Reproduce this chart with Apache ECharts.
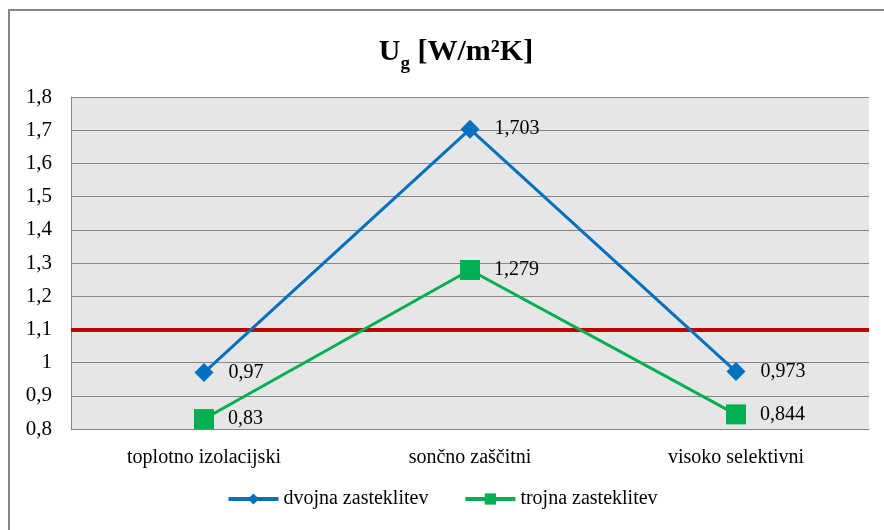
<!DOCTYPE html>
<html><head><meta charset="utf-8">
<script src="https://cdn.jsdelivr.net/npm/echarts@6/dist/echarts.min.js"></script>
<style>html,body{margin:0;padding:0;background:#fff}#c{width:884px;height:530px}</style>
</head><body><div id="c"></div>
<script>
const categories = ['toplotno izolacijski', 'sončno zaščitni', 'visoko selektivni'];
const dvojna = [0.97, 1.703, 0.973];
const trojna = [0.83, 1.279, 0.844];
const limit = 1.097;
const yTicks = [0.8, 1.8, 0.1];
const seriesNames = ['dvojna zasteklitev', 'trojna zasteklitev'];

const font = '"Liberation Serif", "Times New Roman", serif';
const chart = echarts.init(document.getElementById('c'));
const fmt = v => String(v).replace('.', ',');
chart.setOption({
  animation: false,
  backgroundColor: '#fff',
  graphic: [{
    type: 'polyline', silent: true,
    shape: { points: [[9, 540], [9, 10], [890, 10]] },
    style: { stroke: '#868686', lineWidth: 2, fill: null }
  }],
  title: {
    text: '{u|U}{s|g}{u| [W/m²K]}',
    left: 451, top: 28, textAlign: 'center',
    textStyle: {
      rich: {
        u: { fontFamily: font, fontSize: 30, fontWeight: 'bold', color: '#000', verticalAlign: 'bottom', lineHeight: 34 },
        s: { fontFamily: font, fontSize: 19, fontWeight: 'bold', color: '#000', verticalAlign: 'bottom', padding: [0, 0, -7, 0], lineHeight: 34 }
      }
    }
  },
  grid: { left: 71, right: 15, top: 97, bottom: 101, containLabel: false, show: true, backgroundColor: '#e6e6e6', borderWidth: 0 },
  legend: {
    bottom: 16, left: 'center', itemGap: 35, itemWidth: 50, itemHeight: 14,
    lineStyle: { width: 4 },
    textStyle: { fontFamily: font, fontSize: 20, color: '#000' },
    data: seriesNames
  },
  xAxis: {
    type: 'category', data: categories, boundaryGap: true,
    axisLine: { show: true, lineStyle: { color: '#868686', width: 1 } },
    axisTick: { show: false },
    axisLabel: { fontFamily: font, fontSize: 20, color: '#000', margin: 19 },
    splitLine: { show: false }
  },
  yAxis: {
    type: 'value', min: yTicks[0], max: yTicks[1], interval: yTicks[2],
    axisLine: { show: true, lineStyle: { color: '#868686', width: 1 } },
    axisTick: { show: false },
    axisLabel: { fontFamily: font, fontSize: 21, color: '#000', margin: 19, formatter: v => fmt(Math.round(v * 10) / 10) },
    splitLine: { show: true, lineStyle: { color: '#868686', width: 1 } }
  },
  series: [{
    name: seriesNames[0], type: 'line', data: dvojna,
    symbol: 'diamond', symbolSize: 19,
    lineStyle: { color: '#0070c0', width: 3 },
    itemStyle: { color: '#0070c0' },
    label: { show: true, position: 'right', distance: 15, fontFamily: font, fontSize: 20, color: '#000', formatter: p => fmt(p.value) },
    z: 3,
    markLine: {
      silent: true, symbol: 'none', label: { show: false },
      lineStyle: { color: '#c00000', width: 4, type: 'solid' },
      data: [{ yAxis: limit }], z: 1
    }
  }, {
    name: seriesNames[1], type: 'line', data: trojna,
    symbol: 'rect', symbolSize: 20,
    lineStyle: { color: '#00b050', width: 3 },
    itemStyle: { color: '#00b050' },
    label: { show: true, position: 'right', distance: 14, fontFamily: font, fontSize: 20, color: '#000', formatter: p => fmt(p.value) },
    z: 2
  }]
});
</script></body></html>
